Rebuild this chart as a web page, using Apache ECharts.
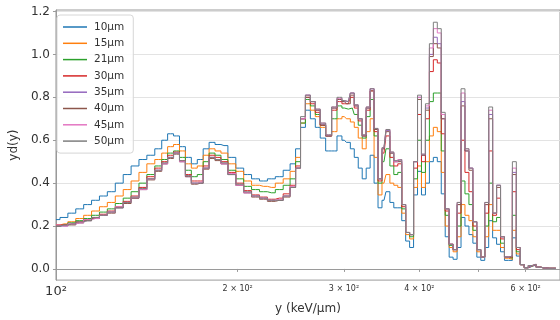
<!DOCTYPE html>
<html>
<head>
<meta charset="utf-8">
<script src="https://cdn.jsdelivr.net/npm/echarts@6/dist/echarts.min.js"></script>
<style>
  html, body { margin: 0; padding: 0; background: #fff; }
  #chart { width: 560px; height: 320px; }
</style>
</head>
<body>
<div id="chart"></div>
<script>
// bin 中心 (keV/μm)
var yBins = [100, 103.1, 106.2, 109.5, 112.8, 116.3, 119.8, 123.5, 127.3, 131.2,
  135.2, 139.3, 143.6, 148.0, 151.4, 154.8, 158.4, 162.0, 165.7, 169.5,
  173.4, 177.3, 181.4, 185.5, 189.8, 195.6, 201.6, 207.7, 214.1, 220.7,
  227.4, 234.4, 241.5, 247.1, 251.8, 256.6, 261.4, 266.4, 271.5, 276.6,
  283.0, 289.4, 294.9, 300.5, 305.1, 309.7, 314.4, 319.2, 324.1, 329.0,
  334.0, 339.1, 344.2, 349.5, 354.8, 360.1, 365.6, 371.2, 376.8, 382.5,
  388.3, 394.2, 400.2, 406.3, 412.5, 418.7, 425.1, 431.6, 438.1, 444.8,
  451.5, 458.4, 465.4, 472.4, 479.6, 486.9, 494.3, 501.8, 509.4, 517.2,
  525.0, 533.0, 541.1, 549.3, 557.6, 566.1, 574.7, 583.4, 592.3, 601.3,
  610.4, 619.7, 629.1, 643.5, 658.2, 673.3];

var names = ["10μm", "15μm", "21μm", "30μm", "35μm", "40μm", "45μm", "50μm"];

var d10 = [0.23, 0.24, 0.26, 0.28, 0.30, 0.32, 0.34, 0.36, 0.40, 0.44, 0.48, 0.51, 0.53, 0.56, 0.60, 0.63, 0.62, 0.57, 0.52, 0.49,
  0.51, 0.56, 0.59, 0.58, 0.575, 0.52, 0.47, 0.44, 0.42, 0.41, 0.42, 0.43, 0.46,
  0.49, 0.56, 0.66, 0.74, 0.70, 0.66, 0.61, 0.55, 0.55, 0.62, 0.60, 0.59, 0.56, 0.52, 0.47, 0.42, 0.47, 0.53, 0.40, 0.285,
  0.32, 0.36, 0.31, 0.285, 0.285, 0.225, 0.13, 0.10, 0.345, 0.455, 0.345, 0.40, 0.50, 0.52, 0.50, 0.35, 0.15, 0.055, 0.045, 0.10,
  0.24, 0.20, 0.16, 0.12, 0.055, 0.04, 0.10, 0.225, 0.145, 0.115, 0.08, 0.04, 0.04, 0.145, 0.06, 0.02, 0.005, 0.012, 0.018, 0.008,
  0.004, 0.003, 0.003];
var d15 = [0.205, 0.21, 0.22, 0.235, 0.25, 0.27, 0.29, 0.31, 0.34, 0.37, 0.41, 0.45, 0.49, 0.51, 0.54, 0.57, 0.58, 0.55, 0.49, 0.47,
  0.48, 0.53, 0.56, 0.55, 0.54, 0.49, 0.455, 0.41, 0.39, 0.385, 0.38, 0.40, 0.42,
  0.455, 0.52, 0.68, 0.77, 0.74, 0.71, 0.66, 0.62, 0.64, 0.70, 0.71, 0.70, 0.685, 0.66, 0.61, 0.56, 0.64, 0.70, 0.52, 0.345,
  0.40, 0.44, 0.40, 0.39, 0.38, 0.26, 0.16, 0.14, 0.38, 0.48, 0.38, 0.50, 0.62, 0.66, 0.64, 0.45, 0.20, 0.10, 0.08, 0.15,
  0.30, 0.25, 0.225, 0.15, 0.08, 0.055, 0.15, 0.30, 0.18, 0.18, 0.10, 0.05, 0.045, 0.18, 0.07, 0.02, 0.006, 0.013, 0.02, 0.008,
  0.004, 0.003, 0.003];
var d21 = [0.20, 0.205, 0.215, 0.225, 0.235, 0.25, 0.265, 0.28, 0.305, 0.33, 0.36, 0.40, 0.44, 0.48, 0.51, 0.54, 0.55, 0.52, 0.46, 0.43,
  0.44, 0.50, 0.54, 0.53, 0.51, 0.46, 0.42, 0.385, 0.37, 0.36, 0.355, 0.37, 0.39,
  0.42, 0.50, 0.68, 0.79, 0.76, 0.72, 0.67, 0.62, 0.70, 0.76, 0.75, 0.745, 0.75, 0.72, 0.67, 0.61, 0.71, 0.79, 0.62, 0.40,
  0.50, 0.56, 0.48, 0.44, 0.45, 0.28, 0.17, 0.15, 0.42, 0.60, 0.45, 0.60, 0.78, 0.82, 0.82, 0.55, 0.25, 0.11, 0.09, 0.20,
  0.41, 0.35, 0.30, 0.18, 0.09, 0.055, 0.20, 0.40, 0.22, 0.24, 0.12, 0.055, 0.05, 0.25, 0.08, 0.02, 0.006, 0.014, 0.02, 0.008,
  0.004, 0.003, 0.003];
var d30 = [0.205, 0.205, 0.21, 0.22, 0.23, 0.24, 0.255, 0.27, 0.29, 0.315, 0.34, 0.38, 0.43, 0.47, 0.50, 0.53, 0.545, 0.505, 0.44, 0.41,
  0.41, 0.48, 0.53, 0.52, 0.50, 0.45, 0.40, 0.365, 0.345, 0.335, 0.325, 0.33, 0.35,
  0.39, 0.48, 0.70, 0.80, 0.77, 0.73, 0.67, 0.62, 0.74, 0.78, 0.77, 0.77, 0.80, 0.75, 0.69, 0.62, 0.74, 0.83, 0.64, 0.41,
  0.54, 0.62, 0.52, 0.48, 0.49, 0.29, 0.17, 0.16, 0.47, 0.72, 0.50, 0.70, 0.92, 0.975, 0.96, 0.63, 0.27, 0.115, 0.09, 0.26,
  0.60, 0.45, 0.36, 0.20, 0.09, 0.055, 0.26, 0.55, 0.25, 0.33, 0.14, 0.055, 0.055, 0.36, 0.09, 0.02, 0.006, 0.015, 0.02, 0.008,
  0.004, 0.003, 0.003];
var d35 = [0.20, 0.20, 0.21, 0.215, 0.225, 0.235, 0.25, 0.265, 0.285, 0.31, 0.33, 0.37, 0.42, 0.46, 0.49, 0.52, 0.54, 0.50, 0.43, 0.40,
  0.40, 0.47, 0.52, 0.51, 0.49, 0.44, 0.39, 0.355, 0.34, 0.33, 0.32, 0.32, 0.34,
  0.38, 0.47, 0.70, 0.81, 0.78, 0.74, 0.675, 0.62, 0.75, 0.79, 0.78, 0.78, 0.82, 0.76, 0.70, 0.62, 0.75, 0.84, 0.65, 0.42,
  0.56, 0.645, 0.54, 0.50, 0.505, 0.30, 0.17, 0.16, 0.50, 0.80, 0.53, 0.75, 1.00, 1.08, 1.05, 0.70, 0.28, 0.115, 0.09, 0.30,
  0.78, 0.55, 0.47, 0.22, 0.09, 0.055, 0.30, 0.72, 0.26, 0.39, 0.15, 0.055, 0.06, 0.45, 0.10, 0.02, 0.006, 0.015, 0.02, 0.008,
  0.004, 0.003, 0.003];
var d40 = [0.20, 0.205, 0.205, 0.215, 0.225, 0.235, 0.25, 0.26, 0.285, 0.305, 0.33, 0.37, 0.415, 0.455, 0.49, 0.515, 0.535, 0.50, 0.43, 0.395,
  0.40, 0.465, 0.515, 0.505, 0.49, 0.44, 0.39, 0.355, 0.335, 0.325, 0.315, 0.32, 0.335,
  0.38, 0.47, 0.70, 0.80, 0.78, 0.74, 0.67, 0.62, 0.75, 0.79, 0.78, 0.77, 0.81, 0.76, 0.70, 0.62, 0.75, 0.83, 0.65, 0.42,
  0.56, 0.64, 0.54, 0.50, 0.50, 0.30, 0.17, 0.16, 0.50, 0.79, 0.53, 0.74, 0.99, 1.05, 1.03, 0.70, 0.28, 0.115, 0.09, 0.30,
  0.76, 0.55, 0.46, 0.22, 0.09, 0.055, 0.30, 0.70, 0.26, 0.38, 0.15, 0.055, 0.06, 0.44, 0.10, 0.02, 0.006, 0.016, 0.021, 0.008,
  0.004, 0.003, 0.003];
var d45 = [0.205, 0.20, 0.21, 0.215, 0.23, 0.235, 0.25, 0.265, 0.29, 0.31, 0.335, 0.37, 0.42, 0.46, 0.49, 0.52, 0.54, 0.50, 0.435, 0.40,
  0.405, 0.47, 0.52, 0.51, 0.49, 0.445, 0.39, 0.355, 0.34, 0.33, 0.32, 0.325, 0.34,
  0.385, 0.47, 0.70, 0.81, 0.78, 0.745, 0.68, 0.625, 0.755, 0.795, 0.785, 0.78, 0.82, 0.765, 0.70, 0.625, 0.755, 0.84, 0.655, 0.42,
  0.565, 0.65, 0.545, 0.50, 0.51, 0.30, 0.17, 0.16, 0.50, 0.80, 0.535, 0.76, 1.03, 1.12, 1.10, 0.72, 0.28, 0.115, 0.09, 0.31,
  0.82, 0.56, 0.47, 0.22, 0.09, 0.055, 0.31, 0.74, 0.26, 0.39, 0.15, 0.055, 0.06, 0.47, 0.10, 0.02, 0.006, 0.016, 0.022, 0.008,
  0.004, 0.003, 0.003];
var d50 = [0.20, 0.205, 0.21, 0.22, 0.225, 0.24, 0.25, 0.265, 0.285, 0.31, 0.335, 0.375, 0.42, 0.46, 0.495, 0.52, 0.54, 0.505, 0.435, 0.40,
  0.40, 0.47, 0.52, 0.51, 0.495, 0.44, 0.395, 0.36, 0.34, 0.33, 0.32, 0.32, 0.34,
  0.38, 0.47, 0.71, 0.81, 0.78, 0.745, 0.68, 0.625, 0.755, 0.80, 0.785, 0.78, 0.82, 0.765, 0.70, 0.625, 0.755, 0.84, 0.655, 0.42,
  0.565, 0.65, 0.545, 0.505, 0.51, 0.30, 0.17, 0.16, 0.50, 0.81, 0.535, 0.77, 1.05, 1.15, 1.12, 0.73, 0.28, 0.115, 0.09, 0.31,
  0.84, 0.56, 0.47, 0.22, 0.09, 0.055, 0.31, 0.755, 0.26, 0.39, 0.15, 0.055, 0.06, 0.50, 0.10, 0.02, 0.006, 0.016, 0.022, 0.008,
  0.004, 0.003, 0.003];

var allData = [d10, d15, d21, d30, d35, d40, d45, d50];
var colors = ["#1f77b4", "#ff7f0e", "#2ca02c", "#d62728", "#9467bd", "#8c564b", "#e377c2", "#7f7f7f"];

var xLabelValues = [100, 200, 300, 400, 600];
var xTickValues = [100, 200, 300, 400, 500, 600];
var yTickValues = [0, 0.2, 0.4, 0.6, 0.8, 1.0, 1.2];

var series = names.map(function (name, i) {
  return {
    name: name,
    type: "line",
    step: "middle",
    showSymbol: false,
    lineStyle: { width: 1, color: colors[i] },
    itemStyle: { color: colors[i] },
    emphasis: { disabled: true },
    data: yBins.map(function (x, j) { return [x, allData[i][j]]; }),
  };
});

var myChart = echarts.init(document.getElementById("chart"));
var option = {
  animation: false,
  textStyle: { fontFamily: "DejaVu Sans" },
  grid: {
    left: 50,
    right: 0,
    top: 10,
    bottom: 37,
    show: true,
    borderColor: "#9a9a9a",
    borderWidth: 1,
  },
  legend: {
    orient: "vertical",
    left: 57,
    top: 15,
    icon: "rect",
    itemWidth: 24,
    itemHeight: 1.5,
    itemGap: 4.3,
    padding: [6, 9, 6, 6],
    backgroundColor: "rgba(255,255,255,0.85)",
    borderColor: "#d6d6d6",
    borderWidth: 1,
    borderRadius: 3,
    textStyle: { fontSize: 10.5, color: "#333", lineHeight: 12, padding: [0, 0, 0, 2] },
    data: names,
  },
  xAxis: {
    type: "log",
    logBase: 10,
    min: 100,
    max: 684,
    name: "y (keV/μm)",
    nameLocation: "middle",
    nameGap: 22,
    nameTextStyle: { fontSize: 12, color: "#333" },
    axisLine: { show: true, lineStyle: { color: "#9a9a9a" } },
    axisTick: { show: true, length: 3, customValues: xTickValues, lineStyle: { color: "#9a9a9a" } },
    axisLabel: {
      customValues: xLabelValues,
      margin: 5,
      color: "#333",
      formatter: function (v) {
        var k = Math.round(v / 100);
        if (k === 1) return "{big|10²}";
        return "{small|" + k + " × 10²}";
      },
      rich: {
        big: { fontSize: 13, color: "#333" },
        small: { fontSize: 8, color: "#333" },
      },
    },
    splitLine: { show: false },
    minorTick: { show: false },
  },
  yAxis: {
    type: "value",
    min: -0.052,
    max: 1.207,
    name: "yd(y)",
    nameLocation: "middle",
    nameGap: 30,
    nameTextStyle: { fontSize: 12, color: "#333" },
    axisLine: { show: true, lineStyle: { color: "#9a9a9a" } },
    axisTick: { show: true, length: 3, customValues: yTickValues, lineStyle: { color: "#9a9a9a" } },
    axisLabel: {
      customValues: yTickValues,
      fontSize: 12,
      color: "#333",
      margin: 6,
      formatter: function (v) { return v.toFixed(1); },
    },
    splitLine: { show: true, lineStyle: { color: "#e3e3e3", width: 1 } },
  },
  series: series,
};
myChart.setOption(option);
</script>
</body>
</html>
